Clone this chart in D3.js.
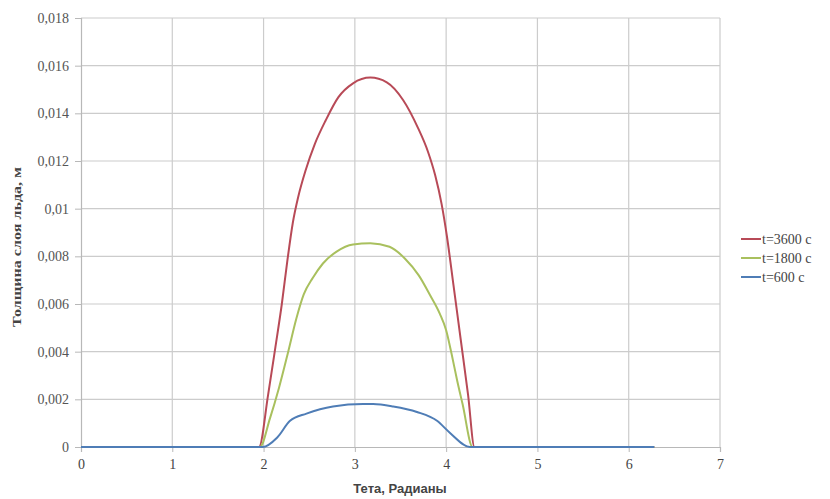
<!DOCTYPE html>
<html>
<head>
<meta charset="utf-8">
<script src="https://cdn.jsdelivr.net/npm/d3@7"></script>
<style>
  html, body { margin: 0; padding: 0; background: #fff; }
  svg { display: block; }
  .serif { font-family: "Liberation Serif", "Times New Roman", "DejaVu Serif", serif; }
  .sans { font-family: "Liberation Sans", Arial, sans-serif; }
</style>
</head>
<body>
<svg id="chart" width="830" height="499"></svg>
<script>
// Ice layer thickness vs. angle for three moments of time
const xTicks = [0, 1, 2, 3, 4, 5, 6, 7];
const yTicks = [0, 0.002, 0.004, 0.006, 0.008, 0.01, 0.012, 0.014, 0.016, 0.018];
const yTickLabels = ["0", "0,002", "0,004", "0,006", "0,008", "0,01", "0,012", "0,014", "0,016", "0,018"];
const seriesNames = ["t=3600 с", "t=1800 с", "t=600 с"];
const seriesColors = ["#b84a57", "#a9c05e", "#4f7db6"];

const theta3600 = [0, 1.95, 2.05, 2.13, 2.20, 2.26, 2.32, 2.38, 2.46, 2.56, 2.68, 2.82, 2.98, 3.17, 3.35, 3.53, 3.69, 3.80, 3.88, 3.95, 4.01, 4.08, 4.16, 4.24, 4.31, 6.28];
const h3600     = [0, 0, 0.0022, 0.0042, 0.0060, 0.0078, 0.0094, 0.0105, 0.0116, 0.0127, 0.0137, 0.01468, 0.01526, 0.0155, 0.0153, 0.01455, 0.0134, 0.0124, 0.0114, 0.0102, 0.0088, 0.0068, 0.0045, 0.0022, 0, 0];

const theta1800 = [0, 1.96, 2.07, 2.17, 2.27, 2.36, 2.44, 2.54, 2.65, 2.80, 2.98, 3.17, 3.38, 3.55, 3.70, 3.82, 3.93, 4.00, 4.06, 4.12, 4.18, 4.29, 6.28];
const h1800     = [0, 0, 0.0012, 0.0025, 0.0040, 0.0054, 0.0064, 0.0071, 0.0077, 0.0082, 0.0085, 0.00855, 0.0084, 0.0079, 0.0072, 0.0064, 0.0056, 0.0049, 0.0039, 0.0028, 0.0018, 0, 0];

const theta600 = [0, 1.99, 2.15, 2.29, 2.47, 2.76, 3.09, 3.20, 3.42, 3.68, 3.90, 4.04, 4.26, 6.28];
const h600     = [0, 0, 0.0004, 0.0011, 0.0014, 0.0017, 0.0018, 0.0018, 0.0017, 0.00147, 0.0011, 0.0006, 0, 0];

const svg = d3.select("#chart");
const plotLeft = 81, plotRight = 720, plotTop = 18, plotBottom = 447;

const x = d3.scaleLinear().domain([0, 7]).range([plotLeft, plotRight]);
const y = d3.scaleLinear().domain([0, 0.018]).range([plotBottom, plotTop]);

const gridColor = "#cccccc";

// vertical grid
svg.append("g")
  .selectAll("line")
  .data(xTicks.slice(1))
  .join("line")
  .attr("x1", d => x(d)).attr("x2", d => x(d))
  .attr("y1", plotTop).attr("y2", plotBottom)
  .attr("stroke", gridColor).attr("stroke-width", 1.2);

// horizontal grid
svg.append("g")
  .selectAll("line")
  .data(yTicks.slice(1))
  .join("line")
  .attr("x1", plotLeft).attr("x2", plotRight)
  .attr("y1", d => y(d)).attr("y2", d => y(d))
  .attr("stroke", gridColor).attr("stroke-width", 1.2);

// y axis
const yAxis = d3.axisLeft(y)
  .tickValues(yTicks)
  .tickFormat((d, i) => yTickLabels[i])
  .tickSize(6)
  .tickPadding(6);
const gy = svg.append("g").attr("transform", `translate(${plotLeft},0)`).call(yAxis);
gy.attr("font-family", null).attr("font-size", null);
gy.select(".domain").attr("stroke", "#b8b8b8").attr("stroke-width", 1.2);
gy.selectAll(".tick line").attr("stroke", "#b8b8b8");
gy.selectAll(".tick text")
  .attr("class", "serif")
  .style("font-size", "14px")
  .attr("fill", "#555");

// x axis
const xAxis = d3.axisBottom(x)
  .tickValues(xTicks)
  .tickFormat(d3.format("d"))
  .tickSize(5)
  .tickPadding(7);
const gx = svg.append("g").attr("transform", `translate(0,${plotBottom})`).call(xAxis);
gx.attr("font-family", null).attr("font-size", null);
gx.select(".domain").attr("stroke", "#b8b8b8").attr("stroke-width", 1.2);
gx.selectAll(".tick line").attr("stroke", "#b8b8b8");
gx.selectAll(".tick text")
  .attr("class", "serif")
  .style("font-size", "14px")
  .attr("fill", "#444");

// axis titles
svg.append("text")
  .attr("class", "sans")
  .attr("x", 400).attr("y", 493)
  .attr("text-anchor", "middle")
  .style("font-weight", "bold")
  .style("font-size", "13px")
  .attr("fill", "#444")
  .text("Тета, Радианы");

svg.append("text")
  .attr("class", "serif")
  .attr("transform", "translate(21,247) rotate(-90)")
  .attr("text-anchor", "middle")
  .attr("textLength", 160)
  .attr("lengthAdjust", "spacingAndGlyphs")
  .style("font-weight", "bold")
  .style("font-size", "13px")
  .attr("fill", "#444")
  .text("Толщина слоя льда, м");

// series
const series = [
  { name: seriesNames[0], color: seriesColors[0], xs: theta3600, ys: h3600 },
  { name: seriesNames[1], color: seriesColors[1], xs: theta1800, ys: h1800 },
  { name: seriesNames[2], color: seriesColors[2], xs: theta600, ys: h600 }
];

const line = d3.line()
  .x(d => x(d[0]))
  .y(d => y(d[1]))
  .curve(d3.curveMonotoneX);

svg.append("g")
  .selectAll("path")
  .data(series)
  .join("path")
  .attr("d", s => line(s.xs.map((v, i) => [v, s.ys[i]])))
  .attr("fill", "none")
  .attr("stroke", s => s.color)
  .attr("stroke-width", 2)
  .attr("stroke-linejoin", "round");

// legend
const legend = svg.append("g").attr("transform", "translate(741,239)");
const items = legend.selectAll("g")
  .data(series)
  .join("g")
  .attr("transform", (d, i) => `translate(0,${i * 19})`);
items.append("line")
  .attr("x1", 0).attr("x2", 20)
  .attr("y1", 0).attr("y2", 0)
  .attr("stroke", d => d.color)
  .attr("stroke-width", 2);
items.append("text")
  .attr("class", "serif")
  .attr("x", 21).attr("y", 4.5)
  .style("font-size", "14px")
  .attr("fill", "#444")
  .text(d => d.name);
</script>
</body>
</html>
